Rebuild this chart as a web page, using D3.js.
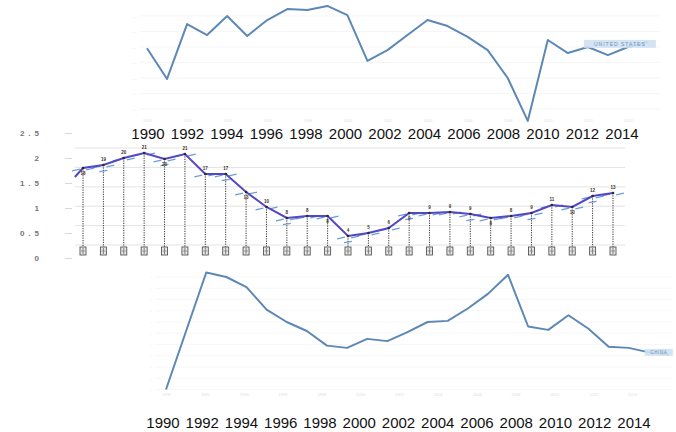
<!DOCTYPE html>
<html><head><meta charset="utf-8">
<script src="https://cdn.jsdelivr.net/npm/d3@7"></script>
<style>body{margin:0;background:#fff}svg{display:block}</style>
</head><body><svg id="c" width="676" height="432"></svg>
<script>
// ---------- DATA ----------
const topYears = [1990,1991,1992,1993,1994,1995,1996,1997,1998,1999,2000,2001,2002,2003,2004,2005,2006,2007,2008,2009,2010,2011,2012,2013,2014,2015];
const topValues = [4.92,2.94,6.48,5.77,7.0,5.71,6.74,7.45,7.39,7.65,7.06,4.1,4.8,5.77,6.74,6.35,5.65,4.8,3.0,0.23,5.45,4.61,5.0,4.48,5.0,5.32];
const topLabel = "UNITED STATES";

const midIndex = [0,1,2,3,4,5,6,7,8,9,10,11,12,13,14,15,16,17,18,19,20,21,22,23,24,25,26];
const midValues = [1.8,1.86,2.0,2.1,1.98,2.08,1.68,1.68,1.32,1.02,0.8,0.84,0.84,0.44,0.5,0.6,0.9,0.9,0.92,0.88,0.8,0.84,0.9,1.06,1.02,1.24,1.3];
const midLeadValue = 1.62;
const midTicks = ["0","0.5","1","1.5","2","2.5"];
const midTickValues = [0,0.5,1,1.5,2,2.5];
const midGrid = [0,1,2,3,4,5];

const botYears = [1990,1992,1993,1994,1995,1996,1997,1998,1999,2000,2001,2002,2003,2004,2005,2006,2007,2008,2009,2010,2011,2012,2013,2014,2015];
const botValues = [0,10.4,10.0,9.1,7.1,6.0,5.2,3.9,3.7,4.5,4.3,5.1,6.0,6.1,7.2,8.5,10.2,5.6,5.3,6.6,5.4,3.8,3.7,3.3,3.1];
const botLabel = "CHINA";

const bigLabels = ["1990","1992","1994","1996","1998","2000","2002","2004","2006","2008","2010","2012","2014"];

// ---------- DRAW ----------
const svg = d3.select("#c");
const lineBlue = "#5d88b6";

// ===== TOP PANEL =====
const tx = d3.scaleLinear().domain([1990,2015]).range([147,648]);
const ty = d3.scaleLinear().domain([0,7]).range([124.5,16]);
const topG = svg.append("g");
topG.selectAll("line.grid").data([1,2,3,4,5,6,7]).join("line")
  .attr("x1",140).attr("x2",660).attr("y1",d=>ty(d)).attr("y2",d=>ty(d))
  .attr("stroke","#f2f2f2").attr("stroke-width",0.7);
const topYAxis = d3.axisLeft(ty).tickValues([1,2,3,4,5,6,7]).tickSize(0).tickFormat(()=>"—");
topG.append("g").attr("transform","translate(140,0)").call(topYAxis)
  .call(g=>g.select(".domain").remove())
  .selectAll("text").attr("fill","#e4e4e4").attr("font-size",4);
const topXAxis = d3.axisBottom(tx).tickValues(bigLabels.map(Number)).tickSize(0).tickFormat(d3.format("d"));
topG.append("g").attr("transform","translate(0,116)").call(topXAxis)
  .call(g=>g.select(".domain").remove())
  .selectAll("text").attr("fill","#e2e2e2").attr("font-size",4);
topG.append("path").datum(topYears.map((y,i)=>[y,topValues[i]]))
  .attr("fill","none").attr("stroke",lineBlue).attr("stroke-width",2).attr("stroke-linejoin","round")
  .attr("d",d3.line().x(d=>tx(d[0])).y(d=>ty(d[1])));
const tl = topG.append("g").attr("transform",`translate(${tx(2011.8)},${ty(5.2)})`);
tl.append("rect").attr("x",0).attr("y",-4).attr("width",72).attr("height",8).attr("fill","#cfe1f2").attr("opacity",0.9);
tl.append("text").attr("x",36).attr("y",2).attr("text-anchor","middle").attr("font-size",5)
  .attr("font-family","Liberation Sans").attr("fill","#6f93bd").attr("letter-spacing",1).text(topLabel);

// ===== MIDDLE PANEL =====
const mx = d3.scaleLinear().domain([0,26]).range([83,613]);
const my = d3.scaleLinear().domain([0,2.5]).range([258,133]);
const mg = d3.scaleLinear().domain([0,5]).range([245,148]);
const midG = svg.append("g");
midG.selectAll("line.grid").data(midGrid).join("line")
  .attr("x1",75).attr("x2",625).attr("y1",d=>mg(d)).attr("y2",d=>mg(d))
  .attr("stroke","#dcdcdc").attr("stroke-width",0.8);
const midAxis = d3.axisLeft(my).tickValues(midTickValues).tickSize(7).tickPadding(22)
  .tickFormat((d,i)=>midTicks[i]);
midG.append("g").attr("transform","translate(72,0)").call(midAxis)
  .call(g=>g.select(".domain").remove())
  .call(g=>g.selectAll("line").attr("stroke","#d8d8d8"))
  .selectAll("text").attr("fill","#777").attr("font-size",8).attr("font-weight","bold")
  .attr("font-family","Liberation Sans").attr("letter-spacing",4);
// drop lines
midG.selectAll("line.drop").data(midIndex).join("line")
  .attr("x1",d=>mx(d)).attr("x2",d=>mx(d)).attr("y1",d=>my(midValues[d])).attr("y2",247)
  .attr("stroke","#333").attr("stroke-width",1).attr("stroke-dasharray","1.2,1.2");
// icons (category labels, unreadable glyphs)
const icons = midG.selectAll("g.icon").data(midIndex).join("g")
  .attr("transform",d=>`translate(${mx(d)},251)`);
icons.append("rect").attr("x",-3).attr("y",-4).attr("width",6).attr("height",8)
  .attr("fill","#e8e8e8").attr("stroke","#555").attr("stroke-width",0.9);
icons.append("line").attr("x1",0).attr("x2",0).attr("y1",-3).attr("y2",3).attr("stroke","#666").attr("stroke-width",0.8);
icons.append("line").attr("x1",-2).attr("x2",2).attr("y1",0).attr("y2",0).attr("stroke","#777").attr("stroke-width",0.7);
// blue dash markers
const dashes = [[-7,2,-12],[7,1,-12],[0,6,-8]];
midIndex.forEach(i=>{
  dashes.forEach((o,k)=>{
    if(k===2 && i%3!==1) return;
    const cx = mx(i)+o[0], cy = my(midValues[i])+o[1];
    midG.append("line").attr("x1",cx-4).attr("x2",cx+4).attr("y1",cy).attr("y2",cy)
      .attr("transform",`rotate(${o[2]},${cx},${cy})`)
      .attr("stroke","#4f8fd0").attr("stroke-width",1.3).attr("opacity",0.85);
  });
});
// purple line
const midPts = [[-0.4,midLeadValue]].concat(midIndex.map(i=>[i,midValues[i]]));
midG.append("path").datum(midPts).attr("fill","none").attr("stroke","#5546c4").attr("stroke-width",2)
  .attr("d",d3.line().x(d=>mx(d[0])).y(d=>my(d[1])));
midG.selectAll("circle").data(midIndex).join("circle")
  .attr("cx",d=>mx(d)).attr("cy",d=>my(midValues[d])).attr("r",1.3).attr("fill","#2a2a2a");
// value labels
midG.selectAll("text.val").data(midIndex).join("text")
  .attr("x",d=>mx(d)).attr("y",d=>my(midValues[d])+(d%4===0?7:-4)).attr("text-anchor","middle")
  .attr("font-size",4.5).attr("font-weight","bold").attr("font-family","Liberation Sans")
  .attr("fill","#3a3520").text(d=>String(Math.round(midValues[d]*10)));

// ===== BOTTOM PANEL =====
const bx = d3.scaleLinear().domain([1990,2015]).range([166,669]);
const by = d3.scaleLinear().domain([0,10]).range([389.5,277]);
const botG = svg.append("g");
botG.selectAll("line.grid").data(d3.range(0,11)).join("line")
  .attr("x1",155).attr("x2",672).attr("y1",d=>by(d)).attr("y2",d=>by(d))
  .attr("stroke","#f4f4f4").attr("stroke-width",0.7);
botG.append("g").attr("transform","translate(155,0)")
  .call(d3.axisLeft(by).ticks(11).tickSize(0).tickFormat(()=>"·"))
  .call(g=>g.select(".domain").remove())
  .selectAll("text").attr("fill","#d0d0d0").attr("font-size",6);
botG.append("g").attr("transform","translate(0,390)")
  .call(d3.axisBottom(d3.scaleLinear().domain([1990,2014]).range([166,632])).tickValues(bigLabels.map(Number)).tickSize(0).tickFormat(d3.format("d")))
  .call(g=>g.select(".domain").remove())
  .selectAll("text").attr("fill","#dedede").attr("font-size",4);
botG.append("path").datum(botYears.map((y,i)=>[y,botValues[i]]))
  .attr("fill","none").attr("stroke",lineBlue).attr("stroke-width",2).attr("stroke-linejoin","round")
  .attr("d",d3.line().x(d=>bx(d[0])).y(d=>by(d[1])));
const bl = botG.append("g").attr("transform",`translate(${bx(2013.8)},${by(3.3)})`);
bl.append("rect").attr("x",0).attr("y",-3.5).attr("width",28).attr("height",7).attr("fill","#cfe1f2").attr("opacity",0.9);
bl.append("text").attr("x",14).attr("y",2).attr("text-anchor","middle").attr("font-size",4.5)
  .attr("font-family","Liberation Sans").attr("fill","#6f93bd").attr("letter-spacing",0.6).text(botLabel);

// ===== BIG YEAR LABEL ROWS =====
const row1 = d3.scalePoint().domain(bigLabels).range([148,622]);
const row2 = d3.scalePoint().domain(bigLabels).range([163,634]);
svg.append("g").selectAll("text").data(bigLabels).join("text")
  .attr("x",d=>row1(d)).attr("y",139).attr("text-anchor","middle")
  .attr("font-size",15).attr("font-family","Liberation Sans").attr("fill","#111").text(d=>d);
svg.append("g").selectAll("text").data(bigLabels).join("text")
  .attr("x",d=>row2(d)).attr("y",428).attr("text-anchor","middle")
  .attr("font-size",15).attr("font-family","Liberation Sans").attr("fill","#111").text(d=>d);
</script></body></html>
